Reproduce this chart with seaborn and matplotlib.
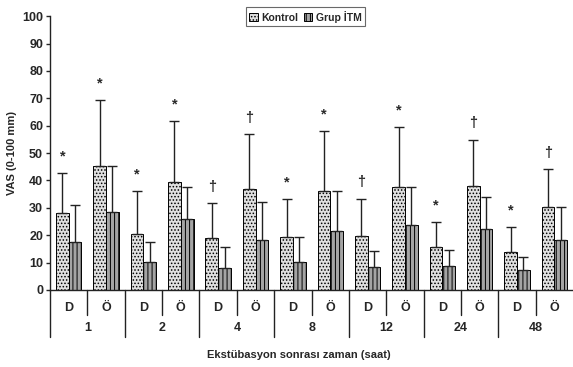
import numpy as np
import pandas as pd
import matplotlib
matplotlib.use('Agg')
import matplotlib.pyplot as plt
import matplotlib.transforms as mtransforms
import seaborn as sns

# values (mean and SD, VAS 0-100 mm)
times = ['1', '2', '4', '8', '12', '24', '48']
phases = ['D', 'Ö']
kontrol_mean = [28.2, 45.3, 20.4, 39.4, 19.0, 36.7, 19.2, 36.2, 19.6, 37.5, 15.7, 37.8, 14.0, 30.2]
kontrol_sd = [14.6, 24.0, 15.8, 22.3, 12.6, 20.2, 13.9, 21.9, 13.7, 22.1, 9.1, 17.1, 9.1, 13.8]
itm_mean = [17.4, 28.5, 10.3, 25.8, 8.0, 18.2, 10.2, 21.6, 8.5, 23.8, 8.9, 22.1, 7.3, 18.4]
itm_sd = [13.6, 16.8, 7.3, 11.7, 7.6, 13.8, 9.0, 14.5, 5.9, 13.8, 5.8, 11.7, 4.6, 11.8]
signif = ['*', '*', '*', '*', '†', '†', '*', '*', '†', '*', '*', '†', '*', '†']
groups = ['Kontrol', 'Grup İTM']

sns.set_style('white')
plt.rcParams['font.family'] = ['Liberation Sans', 'DejaVu Sans']
plt.rcParams['font.weight'] = 'bold'
plt.rcParams['hatch.linewidth'] = 0.7

slots = [t + '-' + p for t in times for p in phases]
df = pd.DataFrame({
    'slot': slots * 2,
    'vas': kontrol_mean + itm_mean,
    'grup': [groups[0]] * len(slots) + [groups[1]] * len(slots),
})

fig = plt.figure(figsize=(5.73, 3.67), dpi=100)
ax = fig.add_axes([0.0873, 0.21, 0.913, 0.746])

sns.barplot(data=df, x='slot', y='vas', hue='grup', order=slots, hue_order=groups,
            errorbar=None, width=0.68, ax=ax, legend=False)

styles = [('#e0e0e0', '.....'), ('#a4a4a4', '||||')]
sds = [kontrol_sd, itm_sd]
means = [kontrol_mean, itm_mean]
for cont, (fc, hatch), m, s in zip(ax.containers, styles, means, sds):
    for bar in cont:
        bar.set_facecolor(fc)
        bar.set_hatch(hatch)
        bar.set_edgecolor('black')
        bar.set_linewidth(0.7)
    xs = [b.get_x() + b.get_width() / 2 for b in cont]
    ax.errorbar(xs, m, yerr=[np.zeros(len(s)), s], fmt='none', ecolor='#222222',
                elinewidth=1.0, capsize=3.5, capthick=1.0)

# significance marks above the Kontrol error bars
kx = [b.get_x() + b.get_width() / 2 for b in ax.containers[0]]
for x, m, s, sym in zip(kx, kontrol_mean, kontrol_sd, signif):
    ax.text(x, m + s + 6, sym, ha='center', va='center', fontsize=10.5, fontweight='bold',
            color='#2a2a2a')

ax.set_ylim(0, 100)
ax.set_xlim(-0.5, len(slots) - 0.5)
ax.set_yticks(range(0, 101, 10))
ax.tick_params(axis='y', length=3, width=1, pad=2, labelsize=9, left=True)
ax.set_xticks(range(len(slots)))
ax.set_xticklabels([p for t in times for p in phases])
ax.tick_params(axis='x', length=0, pad=9, labelsize=9)
for lab in ax.get_yticklabels() + ax.get_xticklabels():
    lab.set_fontweight('bold')

sns.despine(ax=ax, top=True, right=True)
ax.spines['left'].set_linewidth(1.0)
ax.spines['bottom'].set_linewidth(1.0)
ax.spines['left'].set_color('#222222')
ax.spines['bottom'].set_color('#222222')

# category separators below the axis
trans = mtransforms.blended_transform_factory(ax.transData, ax.transAxes)
for k in range(len(slots)):
    depth = -0.172 if k % 2 == 0 else -0.091
    ax.plot([k - 0.5, k - 0.5], [0, depth], color='#222222', lw=1.0,
            transform=trans, clip_on=False)
for g, t in enumerate(times):
    ax.text(2 * g + 0.5, -0.14, t, transform=trans, ha='center', va='center',
            fontsize=9, fontweight='bold')

ax.set_xlabel('')
ax.text(0.476, -0.238, 'Ekstübasyon sonrası zaman (saat)', transform=ax.transAxes,
        ha='center', va='center', fontsize=8, fontweight='bold')
ax.set_ylabel('VAS (0-100 mm)', fontsize=8, fontweight='bold', labelpad=4)

handles = [plt.Rectangle((0, 0), 1, 1, facecolor=fc, hatch=h, edgecolor='black', lw=0.7)
           for fc, h in styles]
leg = fig.legend(handles, groups, loc='upper center', bbox_to_anchor=(0.533, 0.995),
                 ncol=2, frameon=True, fancybox=False, fontsize=7.5,
                 handlelength=0.8, handleheight=0.8, handletextpad=0.3,
                 columnspacing=0.6, borderpad=0.35)
leg.get_frame().set_edgecolor('#444444')
leg.get_frame().set_linewidth(0.8)
for txt in leg.get_texts():
    txt.set_fontweight('bold')

fig.savefig('out.png', dpi=100)
